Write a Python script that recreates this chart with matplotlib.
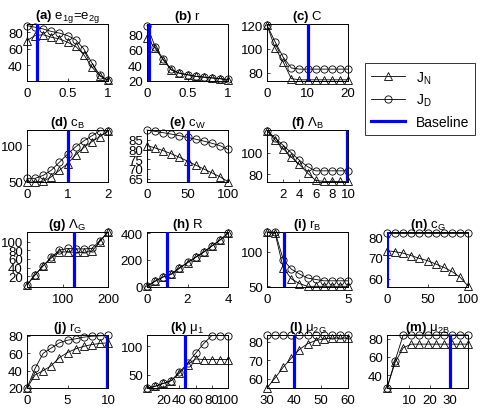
import matplotlib
matplotlib.use("Agg")
import matplotlib.pyplot as plt
from matplotlib.lines import Line2D

plt.rcParams['font.family'] = ['Liberation Sans', 'DejaVu Sans']
plt.rcParams['mathtext.fontset'] = 'custom'
plt.rcParams['mathtext.rm'] = 'Liberation Sans'
plt.rcParams['mathtext.it'] = 'Liberation Sans'
plt.rcParams['mathtext.bf'] = 'Liberation Sans:bold'

# ---- data ----
a_x = [0, 0.1, 0.2, 0.3, 0.4, 0.5, 0.6, 0.7, 0.8, 0.9, 1.0]
a_JN = [70, 76, 77, 74, 72, 68, 63, 53, 38, 27, 22]
a_JD = [88, 86, 84, 81, 79, 76, 71, 60, 43, 28, 22]
a_base = 0.12

b_x = [0, 0.1, 0.2, 0.3, 0.4, 0.5, 0.6, 0.7, 0.8, 0.9, 1.0]
b_JN = [75, 62, 47, 34, 30, 28, 26, 25, 24, 23, 21]
b_JD = [91, 64, 48, 35, 30, 28, 26, 25, 24, 23, 22]
b_base = 0.02

c_x = [0, 2, 4, 6, 8, 10, 12, 14, 16, 18, 20]
c_JN = [120, 101, 89, 75, 74, 74, 74, 74, 74, 74, 74]
c_JD = [120, 106, 93, 84, 83, 83, 83, 83, 83, 83, 83]
c_base = 10

d_x = [0, 0.2, 0.4, 0.6, 0.8, 1.0, 1.2, 1.4, 1.6, 1.8, 2.0]
d_JN = [50, 50, 51, 57, 66, 75, 87, 97, 105, 112, 119]
d_JD = [55, 55, 59, 66, 77, 88, 98, 106, 113, 120, 120]
d_base = 1.0

e_x = [0, 10, 20, 30, 40, 50, 60, 70, 80, 90, 100]
e_JN = [82, 80.8, 79.4, 77.8, 76, 74, 72, 70, 68, 66, 63.5]
e_JD = [90, 89.3, 88.6, 87.9, 87.1, 86.2, 85.3, 84.3, 83.2, 82, 80]
e_base = 50

f_x = [0, 1, 2, 3, 4, 5, 6, 7, 8, 9, 10]
f_JN = [121, 112, 104, 96, 89, 81, 74, 73, 73, 73, 73]
f_JD = [121, 114, 107, 100, 93, 87, 83, 83, 83, 83, 83]
f_base = 9.9

g_x = [20, 38, 56, 74, 92, 110, 128, 146, 164, 182, 200]
g_JN = [0, 23, 44, 62, 76, 76, 75, 75, 77, 100, 122]
g_JD = [0, 23, 44, 64, 80, 84, 83, 83, 84, 102, 122]
g_base = 125

h_x = [0, 0.4, 0.8, 1.2, 1.6, 2.0, 2.4, 2.8, 3.2, 3.6, 4.0]
h_JN = [0, 38, 70, 90, 135, 178, 218, 258, 303, 348, 400]
h_JD = [0, 40, 72, 95, 140, 180, 220, 260, 305, 350, 400]
h_base = 1.0

i_x = [0, 0.5, 1.0, 1.5, 2.0, 2.5, 3.0, 3.5, 4.0, 4.5, 5.0]
i_JN = [129, 127, 77, 61, 54, 50, 50, 50, 50, 50, 50]
i_JD = [129, 129, 89, 75, 68, 62, 60, 58, 58, 58, 58]
i_base = 1.05

n_x = [0, 10, 20, 30, 40, 50, 60, 70, 80, 90, 100]
n_JN = [73.5, 73, 72.3, 71.1, 69.8, 68.7, 67.1, 65.5, 63.5, 60.8, 56.5]
n_JD = [82.2, 82.2, 82.2, 82.2, 82.2, 82.2, 82.2, 82.2, 82.2, 82.2, 82.2]
n_base = 0.5

j_x = [0, 1, 2, 3, 4, 5, 6, 7, 8, 9, 10]
j_JN = [20, 35, 40, 45.7, 55, 60.8, 65, 68, 70, 71.3, 72]
j_JD = [20, 42.6, 60, 66, 72, 75, 76.6, 78.5, 79.6, 80, 80.5]
j_base = 9.9

k_x = [0, 10, 20, 30, 40, 50, 60, 70, 80, 90, 100]
k_JN = [27, 30, 35, 40, 53, 68, 78, 77, 77, 77, 77]
k_JD = [27, 30, 35, 40, 55, 70, 88, 105, 119, 119, 119]
k_base = 47

l_x = [30, 33, 36, 39, 42, 45, 48, 51, 54, 57, 60]
l_JN = [55, 60.4, 66.2, 71, 75.7, 78.8, 80.5, 81.4, 81.8, 81.8, 81.8]
l_JD = [83.5, 83.5, 83.5, 83.5, 83.5, 83.5, 83.5, 83.5, 83.5, 83.5, 83.5]
l_base = 40

m_x = [-1, 3, 7, 11, 15, 19, 23, 27, 31, 35, 39]
m_JN = [26, 54, 70, 74, 74, 74, 74, 74, 74, 74, 74]
m_JD = [26, 56, 84, 84, 84, 84, 84, 84, 84, 84, 84]
m_base = 30

titles = [r"$\mathbf{(a)}$ e$_{1g}$=e$_{2g}$", r"$\mathbf{(b)}$ r", r"$\mathbf{(c)}$ C",
          r"$\mathbf{(d)}$ c$_B$", r"$\mathbf{(e)}$ c$_W$", r"$\mathbf{(f)}$ Λ$_B$",
          r"$\mathbf{(g)}$ Λ$_G$", r"$\mathbf{(h)}$ R", r"$\mathbf{(i)}$ r$_B$",
          r"$\mathbf{(n)}$ c$_G$", r"$\mathbf{(j)}$ r$_G$", r"$\mathbf{(k)}$ μ$_1$",
          r"$\mathbf{(l)}$ μ$_{2G}$", r"$\mathbf{(m)}$ μ$_{2B}$"]

panels = [
    (a_x, a_JN, a_JD, a_base, (0, 1), (21, 90), [0, 0.5, 1], [40, 60, 80], ['0', '0.5', '1']),
    (b_x, b_JN, b_JD, b_base, (0, 1), (20, 93), [0, 0.5, 1], [20, 40, 60, 80], ['0', '0.5', '1']),
    (c_x, c_JN, c_JD, c_base, (0, 20), (73, 121), [0, 10, 20], [80, 100, 120], None),
    (d_x, d_JN, d_JD, d_base, (0, 2), (50, 121), [0, 1, 2], [50, 100], None),
    (e_x, e_JN, e_JD, e_base, (0, 100), (63.3, 90), [0, 50, 100], [65, 70, 75, 80, 85], None),
    (f_x, f_JN, f_JD, f_base, (0, 10), (72.5, 121.5), [2, 4, 6, 8, 10], [80, 100], None),
    (g_x, g_JN, g_JD, g_base, (20, 200), (-5, 122), [100, 200], [20, 40, 60, 80, 100], None),
    (h_x, h_JN, h_JD, h_base, (0, 4), (-5, 410), [0, 2, 4], [0, 200, 400], None),
    (i_x, i_JN, i_JD, i_base, (0, 5), (49, 129), [0, 5], [50, 100], None),
    (n_x, n_JN, n_JD, n_base, (0, 100), (56, 82.5), [0, 50, 100], [60, 70, 80], None),
    (j_x, j_JN, j_JD, j_base, (0, 10), (20, 81), [0, 5, 10], [20, 40, 60, 80], None),
    (k_x, k_JN, k_JD, k_base, (0, 100), (27, 120), [20, 40, 60, 80, 100], [50, 100], None),
    (l_x, l_JN, l_JD, l_base, (30, 60), (55, 83.5), [30, 40, 50, 60], [60, 70, 80], None),
    (m_x, m_JN, m_JD, m_base, (-1, 39), (26, 84), [10, 20, 30], [40, 60, 80], None),
]

# layout in pixels (left, top)
W, H = 480, 410
col_left = [27, 147, 267, 387]
ax_w = 81
rows = [(25, 82), (131, 183), (233, 288), (336, 389)]
grid = [(0, 0), (0, 1), (0, 2), (1, 0), (1, 1), (1, 2), (2, 0), (2, 1), (2, 2), (2, 3),
        (3, 0), (3, 1), (3, 2), (3, 3)]

fig = plt.figure(figsize=(4.8, 4.1), dpi=100)

mk = dict(color='black', lw=0.6, markersize=5.2, markerfacecolor='none',
          markeredgecolor='black', markeredgewidth=0.6)

for (r, c), title, p in zip(grid, titles, panels):
    x, jn, jd, base, xl, yl, xt, yt, xtl = p
    top, bot = rows[r]
    left = col_left[c]
    ax = fig.add_axes([left / W, 1 - bot / H, ax_w / W, (bot - top) / H])
    ax.plot(x, jn, marker='^', clip_on=False, **mk)
    ax.plot(x, jd, marker='o', clip_on=False, **mk)
    ax.axvline(base, color='#0000ff', lw=2.3, zorder=5)
    ax.set_xlim(*xl)
    ax.set_ylim(*yl)
    ax.set_xticks(xt)
    if xtl:
        ax.set_xticklabels(xtl)
    ax.set_yticks(yt)
    ax.tick_params(direction='in', length=2, width=0.5, labelsize=9.5, pad=3)
    ax.tick_params(axis='x', pad=4)
    for s in ax.spines.values():
        s.set_linewidth(0.7)
    ax.set_title(title, fontsize=9.5, pad=3)

handles = [Line2D([], [], marker='^', **mk),
           Line2D([], [], marker='o', **mk),
           Line2D([], [], color='#0000ff', lw=2.3)]
leg = fig.legend(handles, ['J$_N$', 'J$_D$', 'Baseline'], loc='upper left',
                 bbox_to_anchor=(365 / W, 1 - 64 / H), borderaxespad=0, fontsize=10,
                 frameon=True, fancybox=False, edgecolor='black', handlelength=2.4,
                 labelspacing=0.45, borderpad=0.45, handletextpad=0.8)
leg.get_frame().set_linewidth(0.7)

fig.savefig('out.png', dpi=100)
